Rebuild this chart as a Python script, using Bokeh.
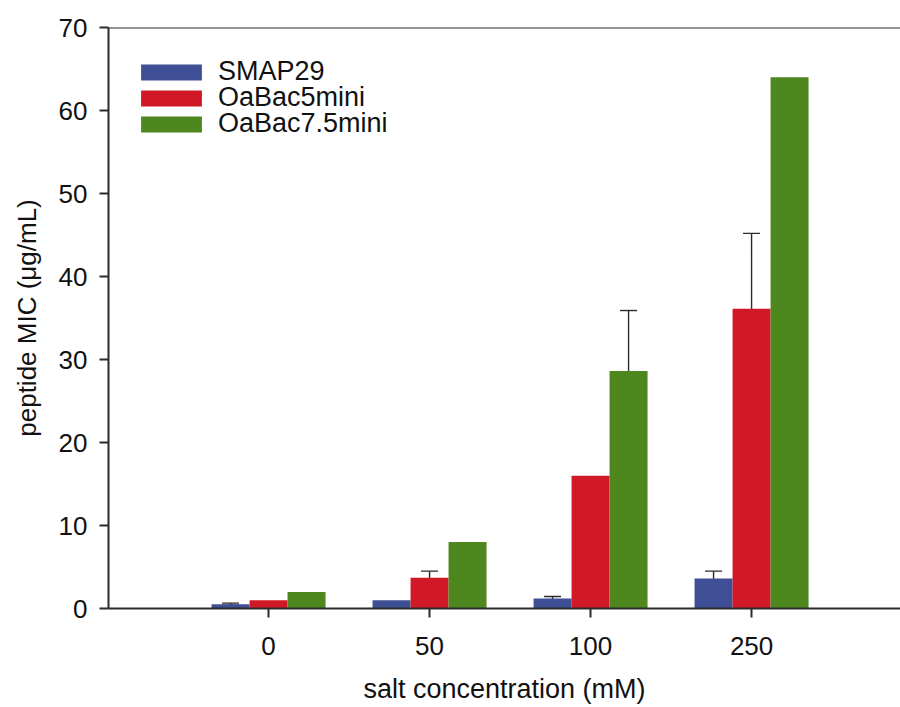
from bokeh.plotting import figure
from bokeh.models import (ColumnDataSource, Range1d, FixedTicker, Whisker, TeeHead,
                          Span, Legend, LegendItem)
from bokeh.embed import file_html
from bokeh.resources import INLINE

# salt concentration groups (mM)
salt = ["0", "50", "100", "250"]

# peptide MIC (ug/mL)
smap29 = [0.5, 1.0, 1.2, 3.6]
oabac5mini = [1.0, 3.7, 16.0, 36.1]
oabac75mini = [2.0, 8.0, 28.6, 64.0]

# error bar bounds (None where no bar is shown)
smap29_low = [0.4, None, 1.0, 2.9]
smap29_high = [0.65, None, 1.45, 4.5]
oabac5mini_low = [None, 2.9, None, 28.8]
oabac5mini_high = [None, 4.5, None, 45.2]
oabac75mini_low = [None, None, 22.9, None]
oabac75mini_high = [None, None, 35.9, None]

series = [
    ("SMAP29", smap29, smap29_low, smap29_high, "#3e4f95", -0.236),
    ("OaBac5mini", oabac5mini, oabac5mini_low, oabac5mini_high, "#d01827", 0.0),
    ("OaBac7.5mini", oabac75mini, oabac75mini_low, oabac75mini_high, "#4f871f", 0.236),
]

FONT = "Liberation Sans"
INK = "#2b2b2b"

p = figure(width=900, height=707, output_backend="svg", toolbar_location=None,
           x_range=Range1d(-0.994, 3.925), y_range=Range1d(0, 70),
           min_border_left=108, min_border_right=0, min_border_top=27, min_border_bottom=99)
p.outline_line_color = None
p.xgrid.grid_line_color = None
p.ygrid.grid_line_color = None
p.background_fill_color = "white"
p.border_fill_color = "white"

idx = list(range(len(salt)))
items = []
for name, vals, lo, hi, color, off in series:
    xs = [i + off for i in idx]
    src = ColumnDataSource(dict(x=xs, top=vals))
    r = p.vbar(x="x", top="top", bottom=0, width=0.236, source=src,
               fill_color=color, line_color=None)
    items.append(LegendItem(label=name, renderers=[r]))
    ex = [x for x, l in zip(xs, lo) if l is not None]
    el = [l for l in lo if l is not None]
    eh = [h for h in hi if h is not None]
    if ex:
        esrc = ColumnDataSource(dict(x=ex, lower=el, upper=eh))
        p.add_layout(Whisker(source=esrc, base="x", lower="lower", upper="upper",
                             dimension="height", line_color=INK, line_width=1.4,
                             upper_head=TeeHead(size=17, line_color=INK, line_width=1.4),
                             lower_head=TeeHead(size=17, line_color=INK, line_width=1.4)))

# top frame line
p.add_layout(Span(location=70, dimension="width", line_color=INK, line_width=2))

# axes
p.xaxis.ticker = FixedTicker(ticks=idx)
p.xaxis.major_label_overrides = {i: s for i, s in zip(idx, salt)}
p.yaxis.ticker = FixedTicker(ticks=list(range(0, 71, 10)))
for ax in (p.xaxis[0], p.yaxis[0]):
    ax.axis_line_color = INK
    ax.axis_line_width = 2
    ax.major_tick_line_color = INK
    ax.major_tick_line_width = 2
    ax.major_tick_out = 9
    ax.major_tick_in = 0
    ax.minor_tick_line_color = None
    ax.major_label_text_font = FONT
    ax.major_label_text_font_size = "26px"
    ax.major_label_text_color = "#111111"
    ax.axis_label_text_font = FONT
    ax.axis_label_text_font_style = "normal"
    ax.axis_label_text_color = "#111111"

p.xaxis.axis_label = "salt concentration (mM)"
p.xaxis.axis_label_text_font_size = "27px"
p.xaxis.major_label_standoff = 19
p.xaxis.axis_label_standoff = 16
p.yaxis.axis_label = "peptide MIC (\u03bcg/mL)"
p.yaxis.axis_label_text_font_size = "26px"
p.yaxis.major_label_standoff = 12
p.yaxis.axis_label_standoff = 14

# one legend box per series so the rows sit 26 px apart
for k, item in enumerate(items):
    legend = Legend(items=[item], location=(25, 521 - 26 * k), orientation="vertical",
                    glyph_width=76, glyph_height=20, label_height=26, spacing=0,
                    label_standoff=9, padding=0, margin=0,
                    label_text_font=FONT, label_text_font_size="27px",
                    label_text_color="#111111",
                    border_line_color=None, background_fill_alpha=0)
    p.add_layout(legend)

open("out.html", "w").write(file_html(p, INLINE))
